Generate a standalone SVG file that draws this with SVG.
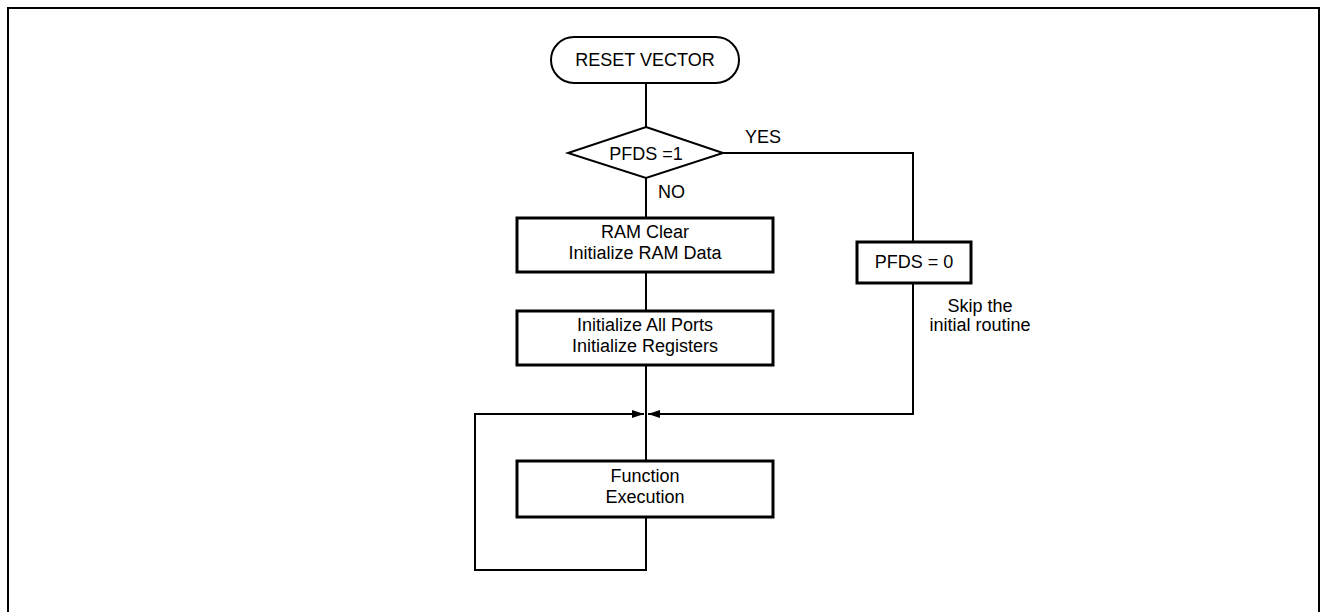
<svg xmlns="http://www.w3.org/2000/svg" width="1323" height="612" viewBox="0 0 1323 612">
<defs>
<style>
text{font-family:"Liberation Sans",Arial,sans-serif;font-size:18px;fill:#000;text-anchor:middle}
.box{fill:#fff;stroke:#000;stroke-width:3}
.thin{fill:#fff;stroke:#000;stroke-width:2}
.ln{fill:none;stroke:#000;stroke-width:2}
.lbl{text-anchor:start}
</style>
<marker id="ah" viewBox="0 0 12 8" refX="12" refY="4" markerWidth="12" markerHeight="8" markerUnits="userSpaceOnUse" orient="auto">
<path d="M0,0 L12,4 L0,8 Z" fill="#000"/>
</marker>
</defs>
<rect x="8" y="8" width="1311" height="620" fill="none" stroke="#000" stroke-width="2"/>
<g id="connectors">
<line class="ln" x1="646" y1="83" x2="646" y2="127"/>
<line class="ln" x1="646" y1="178" x2="646" y2="218"/>
<polyline class="ln" points="723,153 913,153 913,242"/>
<line class="ln" x1="646" y1="272" x2="646" y2="311"/>
<line class="ln" x1="646" y1="365" x2="646" y2="461"/>
<polyline class="ln" points="913,283 913,414 648,414" marker-end="url(#ah)"/>
<polyline class="ln" points="646,517 646,570 475,570 475,414 644,414" marker-end="url(#ah)"/>
</g>
<g id="reset">
<rect class="thin" x="551" y="37" width="188" height="46" rx="23" ry="23"/>
<text x="645" y="66">RESET VECTOR</text>
</g>
<g id="decision">
<polygon class="thin" points="646,127 723,153 646,178 568,153"/>
<text x="646" y="160">PFDS =1</text>
<text class="lbl" x="745" y="143">YES</text>
<text class="lbl" x="658" y="198">NO</text>
</g>
<g id="ramclear">
<rect class="box" x="517" y="218" width="256" height="54"/>
<text x="645" y="238">RAM Clear</text>
<text x="645" y="259">Initialize RAM Data</text>
</g>
<g id="initports">
<rect class="box" x="517" y="311" width="256" height="54"/>
<text x="645" y="331">Initialize All Ports</text>
<text x="645" y="352">Initialize Registers</text>
</g>
<g id="pfds0">
<rect class="box" x="857" y="242" width="114" height="41"/>
<text x="914" y="268">PFDS = 0</text>
<text x="980" y="312">Skip the</text>
<text x="980" y="331">initial routine</text>
</g>
<g id="function">
<rect class="box" x="517" y="461" width="256" height="56"/>
<text x="645" y="482">Function</text>
<text x="645" y="503">Execution</text>
</g>
</svg>
